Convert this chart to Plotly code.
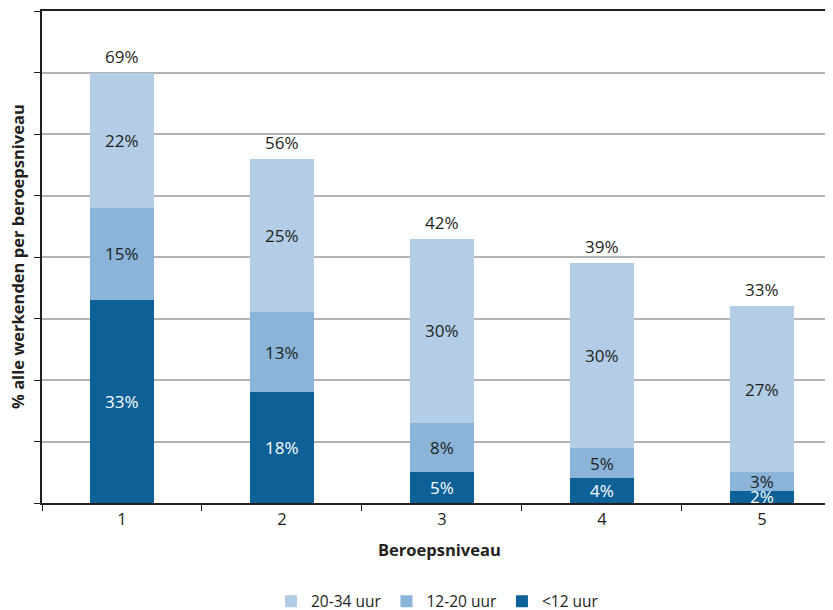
import plotly.graph_objects as go

categories = ["1", "2", "3", "4", "5"]
lt12 = [33, 18, 5, 4, 2]
u12_20 = [15, 13, 8, 5, 3]
u20_34 = [22, 25, 30, 30, 27]
totals = [69, 56, 42, 39, 33]

colors = {"<12 uur": "#0d6196", "12-20 uur": "#8ab4d9", "20-34 uur": "#b2cde5"}
text_colors = {"<12 uur": "white", "12-20 uur": "#231f20", "20-34 uur": "#231f20"}
FONT = "Open Sans"
FS = 17
FT = 16.5

fig = go.Figure()
series = [("<12 uur", lt12), ("12-20 uur", u12_20), ("20-34 uur", u20_34)]
for name, vals in series:
    fig.add_trace(go.Bar(x=categories, y=vals, name=name, marker_color=colors[name],
                         marker_line_width=0, width=0.4))

annotations = []
base = [0] * len(categories)
for name, vals in series:
    for i, v in enumerate(vals):
        annotations.append(dict(x=i, y=base[i] + v / 2, text=f"{v}%", showarrow=False,
                                font=dict(family=FONT, size=FS, color=text_colors[name])))
        base[i] += v
for i, t in enumerate(totals):
    annotations.append(dict(x=i, y=base[i], text=f"{t}%", showarrow=False, yanchor="bottom",
                            yshift=3, font=dict(family=FONT, size=FS, color="#231f20")))

annotations.append(dict(xref="paper", yref="paper", x=0.503, y=-0.122, xanchor="center",
                        text="<b>Beroepsniveau</b>",
                        showarrow=False, font=dict(family=FONT, size=FT, color="#231f20")))
annotations.append(dict(xref="paper", yref="paper", x=-0.0316, y=0.5, xanchor="center", yanchor="middle",
                        text="<b>% alle werkenden per beroepsniveau</b>",
                        textangle=-90, showarrow=False, font=dict(family=FONT, size=FT, color="#231f20")))

fig.update_layout(
    barmode="stack",
    width=825, height=602,
    margin=dict(l=34, r=0, t=3, b=107),
    plot_bgcolor="white", paper_bgcolor="white",
    font=dict(family=FONT, size=FS, color="#231f20"),
    showlegend=True,
    legend=dict(orientation="h", x=0.50, xanchor="center", yref="container", y=0.014, yanchor="middle",
                traceorder="reversed", font=dict(family=FONT, size=15.5, color="#231f20"),
                itemwidth=30, bgcolor="rgba(0,0,0,0)"),
    annotations=annotations,
    xaxis=dict(type="category", range=[-0.5, 4.444], tickson="boundaries", ticks="outside",
               ticklen=6, tickcolor="#231f20", showline=True, linecolor="#231f20", linewidth=1.5,
               mirror=True, showgrid=False, automargin=False,
               tickfont=dict(family=FONT, size=FT, color="#231f20")),
    yaxis=dict(range=[0, 80], dtick=10, showticklabels=False, ticks="outside", ticklen=6,
               tickcolor="#231f20", showline=True, linecolor="#231f20", linewidth=1.5,
               showgrid=True, gridcolor="#b3b3b3", gridwidth=1.5, zeroline=False, automargin=False),
)

fig.write_html("out.html")
